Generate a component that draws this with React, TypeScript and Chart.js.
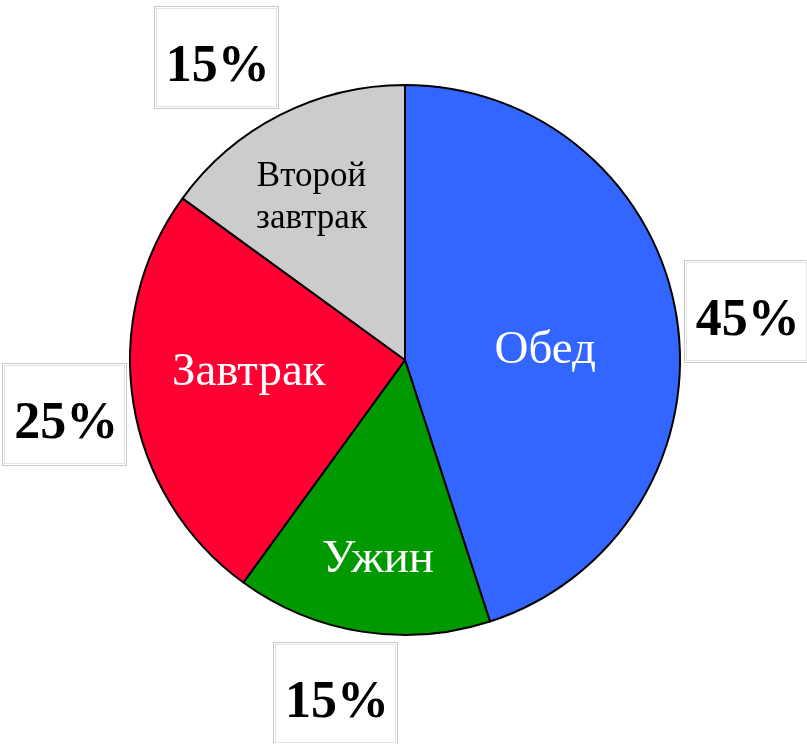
import React, { useEffect, useRef } from "react";
import { Chart, registerables } from "chart.js";

Chart.register(...registerables);

const categories: string[][] = [["Обед"], ["Ужин"], ["Завтрак"], ["Второй", "завтрак"]];
const values: number[] = [45, 15, 25, 15];
const percentLabels: string[] = ["45%", "15%", "25%", "15%"];
const sliceColors: string[] = ["#3366FF", "#009900", "#FF0033", "#CCCCCC"];

// label layout (relative to pie center, in units of the radius)
const innerPos = [
  { dx: 0.51, dy: -0.035, size: 47, color: "#ffffff" },
  { dx: -0.098, dy: 0.725, size: 47, color: "#ffffff" },
  { dx: -0.568, dy: 0.047, size: 47, color: "#ffffff" },
  { dx: -0.34, dy: -0.59, size: 35, color: "#000000" },
];
const boxPos = [
  { dx: 1.239, dy: -0.177 },
  { dx: -0.255, dy: 1.212 },
  { dx: -1.239, dy: 0.196 },
  { dx: -0.688, dy: -1.101 },
];

const labelPlugin = {
  id: "labelPlugin",
  afterDatasetsDraw(chart: any) {
    const ctx = chart.ctx as CanvasRenderingContext2D;
    const meta = chart.getDatasetMeta(0);
    meta.data.forEach((arc: any, i: number) => {
      const { x, y, outerRadius } = arc.getProps(["x", "y", "outerRadius"], true);
      const ip = innerPos[i];
      const cx = x + ip.dx * outerRadius;
      const cy = y + ip.dy * outerRadius;
      ctx.save();
      ctx.fillStyle = ip.color;
      ctx.font = `${ip.size}px "Liberation Serif", "Times New Roman", serif`;
      ctx.textAlign = "center";
      ctx.textBaseline = "middle";
      const lines = categories[i];
      const lh = ip.size * 1.22;
      lines.forEach((ln, k) => {
        ctx.fillText(ln, cx, cy + (k - (lines.length - 1) / 2) * lh);
      });
      ctx.restore();

      // percent box
      const bp = boxPos[i];
      const bx = x + bp.dx * outerRadius;
      const by = y + bp.dy * outerRadius;
      const w = 124;
      const h = 102;
      ctx.save();
      ctx.fillStyle = "#ffffff";
      ctx.fillRect(bx - w / 2, by - h / 2, w, h);
      ctx.strokeStyle = "#c8c8c8";
      ctx.lineWidth = 1;
      ctx.strokeRect(Math.round(bx - w / 2) + 0.5, Math.round(by - h / 2) + 0.5, w, h);
      ctx.strokeStyle = "#e4e4e4";
      ctx.strokeRect(Math.round(bx - w / 2) + 2.5, Math.round(by - h / 2) + 2.5, w - 4, h - 4);
      ctx.fillStyle = "#000000";
      ctx.font = `bold 52px "Liberation Serif", "Times New Roman", serif`;
      ctx.textAlign = "center";
      ctx.textBaseline = "alphabetic";
      ctx.fillText(percentLabels[i], bx + 2, by + 24);
      ctx.restore();
    });
  },
};

export default function App() {
  const ref = useRef<HTMLCanvasElement | null>(null);
  useEffect(() => {
    document.body.style.margin = "0";
    if (!ref.current) return;
    const chart = new Chart(ref.current, {
      type: "pie",
      data: {
        labels: categories.map((c) => c.join(" ")),
        datasets: [
          {
            data: values,
            backgroundColor: sliceColors,
            borderColor: "#000000",
            borderWidth: 2,
          },
        ],
      },
      options: {
        responsive: false,
        animation: false,
        events: [],
        layout: { padding: { left: 129, right: 126, top: 84, bottom: 108 } },
        plugins: {
          legend: { display: false },
          tooltip: { enabled: false },
          title: { display: false },
        },
      },
      plugins: [labelPlugin],
    });
    return () => chart.destroy();
  }, []);
  return (
    <div style={{ position: "absolute", left: 0, top: 0, width: 807, height: 744, background: "#fff" }}>
      <canvas ref={ref} width={807} height={744} style={{ width: 807, height: 744, display: "block" }} />
    </div>
  );
}
